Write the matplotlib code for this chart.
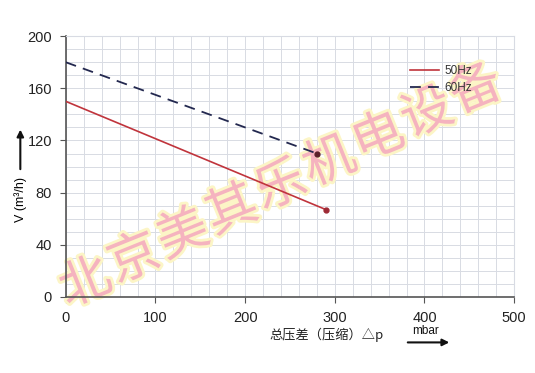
import matplotlib
matplotlib.use('Agg')
import matplotlib.pyplot as plt
import matplotlib.patheffects as pe
from matplotlib.ticker import MultipleLocator

plt.rcParams['font.family'] = ['Liberation Sans', 'Noto Sans CJK SC', 'DejaVu Sans']

# data
dp_50 = [0, 290]
v_50 = [150, 67]
dp_60 = [0, 280]
v_60 = [180, 110]
x_ticks = [0, 100, 200, 300, 400, 500]
y_ticks = [0, 40, 80, 120, 160, 200]
watermark = '北京美其乐机电设备'

fig = plt.figure(figsize=(5.35, 3.73), dpi=100)
ax = fig.add_axes([0.123, 0.204, 0.838, 0.699])

ax.plot(dp_50, v_50, color='#c0343c', lw=1.2, label='50Hz', zorder=3)
ax.plot(dp_60, v_60, color='#23284f', lw=1.3, ls=(0, (6, 4)), label='60Hz', zorder=3)
ax.plot(dp_50[-1], v_50[-1], 'o', color='#9e2a35', ms=3.5, zorder=3)
ax.plot(dp_60[-1], v_60[-1], 'o', color='#5a1f2a', ms=3.5, zorder=3)

ax.set_xlim(0, 500)
ax.set_ylim(0, 200)
ax.set_xticks(x_ticks)
ax.set_yticks(y_ticks)
ax.xaxis.set_minor_locator(MultipleLocator(20))
ax.yaxis.set_minor_locator(MultipleLocator(10))
ax.grid(which='both', color='#d8dbe3', lw=0.7)
ax.set_axisbelow(True)
ax.tick_params(which='major', direction='out', length=4, labelsize=10.5,
               color='#555555', labelcolor='#222222', pad=6)
ax.tick_params(which='minor', length=0)
for s in ['left', 'bottom']:
    ax.spines[s].set_color('#555555')
    ax.spines[s].set_linewidth(1.2)
for s in ['top', 'right']:
    ax.spines[s].set_color('#d8dbe3')

leg = ax.legend(loc='upper right', bbox_to_anchor=(0.93, 0.93), frameon=False,
                fontsize=8.5, handlelength=2.4, handletextpad=0.5, labelspacing=0.45)
for t in leg.get_texts():
    t.set_color('#333333')

# axis labels with arrows
fig.text(0.038, 0.466, 'V (m³/h)', rotation=90, ha='center', va='center', fontsize=9)
fig.add_artist(matplotlib.patches.FancyArrowPatch(
    (0.038, 0.539), (0.038, 0.66), transform=fig.transFigure,
    arrowstyle='-|>', mutation_scale=10, lw=1.5, color='#111111'))
fig.text(0.61, 0.102, '总压差（压缩）△p', ha='center', va='center', fontsize=9.5,
         family=['Noto Sans CJK SC', 'DejaVu Sans'], color='#222222')
fig.text(0.795, 0.113, 'mbar', ha='center', va='center', fontsize=8.5, color='#111111')
fig.add_artist(matplotlib.patches.FancyArrowPatch(
    (0.757, 0.082), (0.845, 0.082), transform=fig.transFigure,
    arrowstyle='-|>', mutation_scale=10, lw=1.5, color='#111111'))

# watermark: above the grid, under the lines and legend
x0, y0, x1, y1 = 0.16, 0.24, 0.89, 0.76
n = len(watermark)
for i, ch in enumerate(watermark):
    fx = x0 + (x1 - x0) * i / (n - 1)
    fy = y0 + (y1 - y0) * i / (n - 1)
    ax.text(fx, fy, ch, transform=fig.transFigure, clip_on=False, zorder=1.5,
            rotation=22, ha='center', va='center', fontsize=37,
            family=['Noto Sans CJK SC'], color='#f5b3bf',
            path_effects=[pe.Stroke(linewidth=4, foreground='#fcf5c6'), pe.Normal()])

fig.savefig('out.png', dpi=100)
